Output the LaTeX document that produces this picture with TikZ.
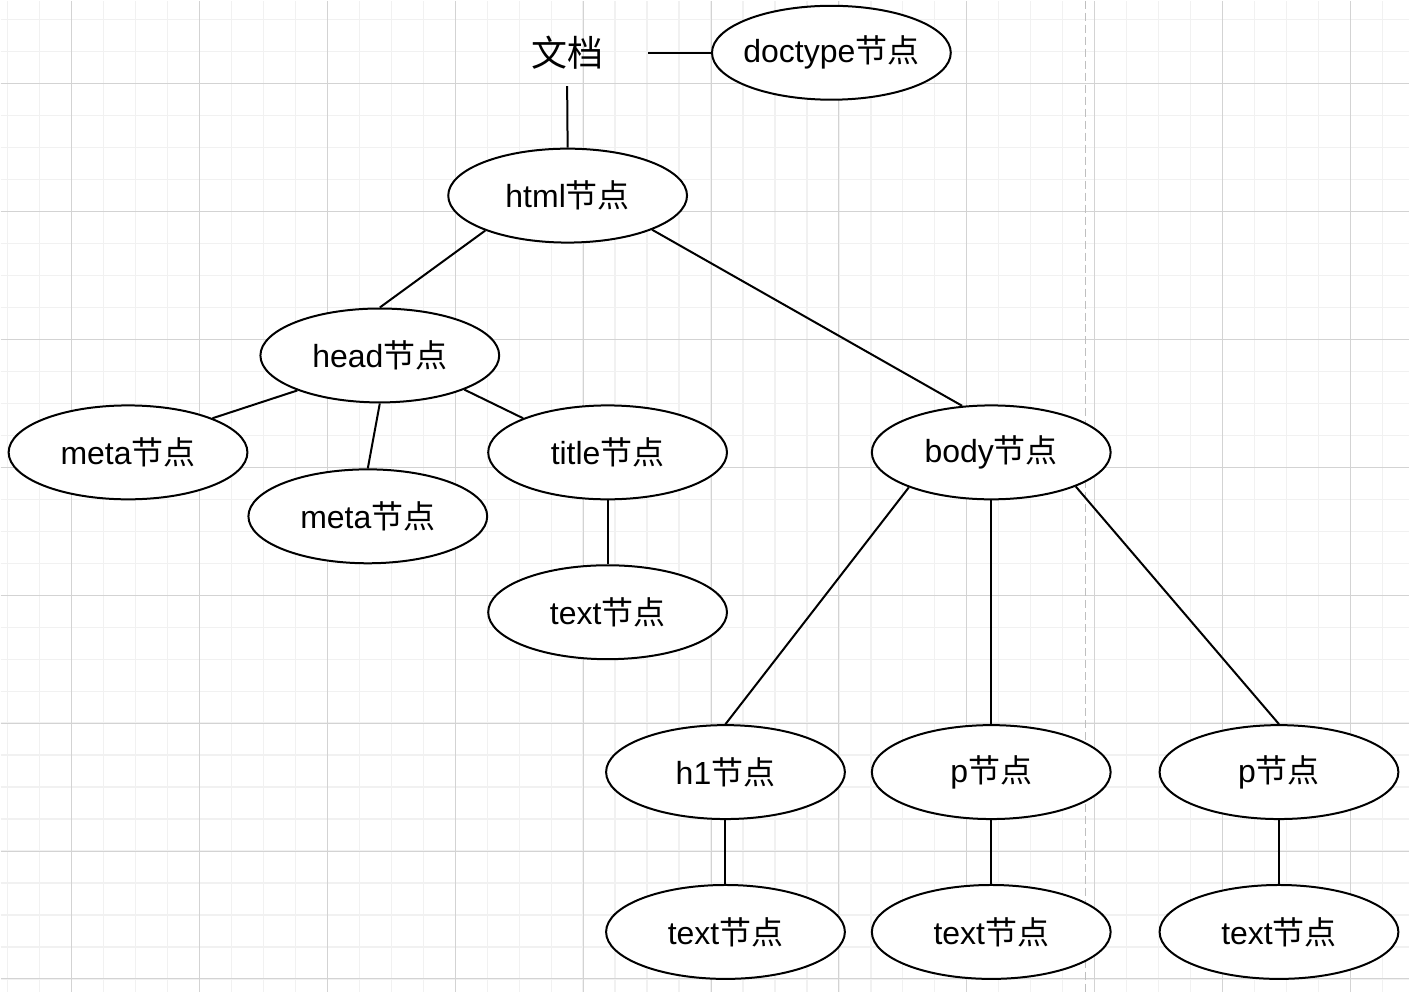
\documentclass[tikz,border=0pt]{standalone}
\usepackage{fontspec}
\setmainfont{Liberation Sans}
\newfontfamily\cjk{Noto Sans CJK SC}
\usepackage{tikz}
\usetikzlibrary{shapes.geometric}
\definecolor{gridminor}{HTML}{F1F1F1}
\definecolor{gridmajor}{HTML}{D3D3D3}
\definecolor{guide}{HTML}{BFBFBF}
\newcommand{\jd}{{\cjk 节点}}

\begin{document}
\begin{tikzpicture}[x=0.5pt,y=-0.5pt,
   n/.style={ellipse,draw,line width=1pt,fill=white,inner sep=0pt,inner xsep=-12pt,minimum width=119.5pt,minimum height=47pt,font=\fontsize{16}{19}\selectfont},
   e/.style={line width=1pt}]
  % grid paper
  \fill[white] (0,0) rectangle (1410,992);
  \foreach \x in {7,39,...,1410}{\draw[gridminor,line width=0.65pt] (\x,0) -- (\x,992);}
  \foreach \y in {19,51,...,992}{\draw[gridminor,line width=0.65pt] (0,\y) -- (1410,\y);}
  \foreach \x in {71,199,...,1410}{\draw[gridmajor,line width=0.45pt] (\x,0) -- (\x,992);}
  \foreach \y in {83,211,...,992}{\draw[gridmajor,line width=0.45pt] (0,\y) -- (1410,\y);}
  \draw[guide,line width=0.8pt,dash pattern=on 4pt off 2pt] (1086,0) -- (1086,992);
  \useasboundingbox (0,0) rectangle (1410,992);
  % tree
  \node[font=\fontsize{18}{22}\cjk,minimum width=81pt,minimum height=33pt,inner sep=0pt] (doc) at (567,52) {文档};
  \node[n] (doctype) at (831.5,52) {doctype\jd};
  \node[n] (html) at (567.5,195) {html\jd};
  \node[n] (head) at (379.5,355) {head\jd};
  \node[n] (meta1) at (127.5,452) {meta\jd};
  \node[n] (meta2) at (367.5,516) {meta\jd};
  \node[n] (title) at (607.5,452) {title\jd};
  \node[n] (text1) at (607.5,612) {text\jd};
  \node[n] (body) at (991.5,452) {body\jd};
  \node[n] (h1) at (725.5,772) {h1\jd};
  \node[n] (p1) at (991.5,772) {p\jd};
  \node[n] (p2) at (1279.5,772) {p\jd};
  \node[n] (text2) at (725.5,932) {text\jd};
  \node[n] (text3) at (991.5,932) {text\jd};
  \node[n] (text4) at (1279.5,932) {text\jd};
  \foreach \a/\b in {doc.east/doctype.west,doc.south/html.north,html.203/head.north,html.-22/body.122,
    head.203/meta1.22,head.south/meta2.north,head.-22/title.158,title.south/text1.north,
    body.203/h1.north,body.south/p1.north,body.-22/p2.north,
    h1.south/text2.north,p1.south/text3.north,p2.south/text4.north}{\draw[e] (\a) -- (\b);}
\end{tikzpicture}
\end{document}
